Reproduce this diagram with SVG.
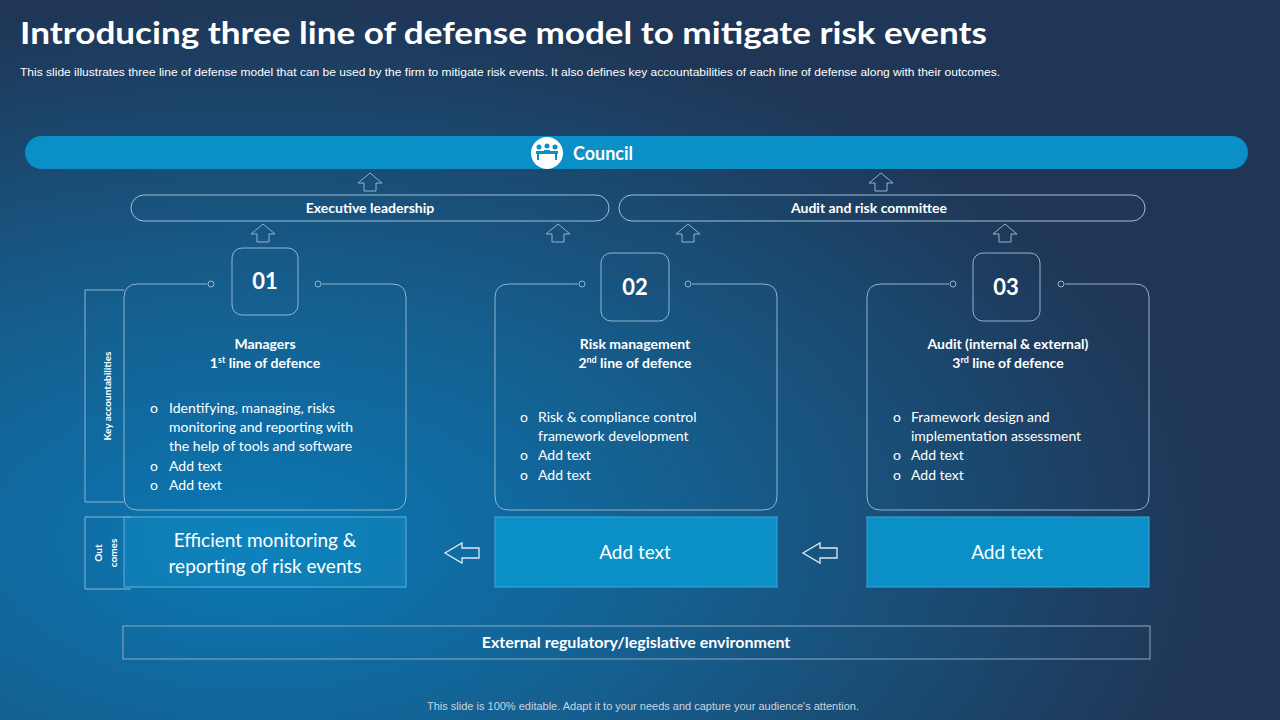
<svg xmlns="http://www.w3.org/2000/svg" width="1280" height="720" viewBox="0 0 1280 720">
<defs>
<radialGradient id="bg" cx="0.2" cy="0.75" r="0.75">
<stop offset="0" stop-color="#0a78b4"/>
<stop offset="0.45" stop-color="#155f8f"/>
<stop offset="1" stop-color="#1f3656"/>
</radialGradient>
<g id="up"><path d="M-6,8 L-6,0 L-12,0 L0,-10 L12,0 L6,0 L6,8 Z" fill="none" stroke="#8fb4d0" stroke-width="1"/></g>
<g id="left"><path d="M17,-5 L0,-5 L0,-10 L-17,0 L0,10 L0,5 L17,5 Z" fill="none" stroke="#dbe8f3" stroke-width="1.3"/></g>
</defs>
<style>
text{font-family:Lato,"Open Sans","Liberation Sans",sans-serif;fill:#fff}
.b{font-weight:bold}
.ln{fill:none;stroke:#8fb4d0;stroke-width:1}
.pill{fill:none;stroke:#9fc0d8;stroke-width:1}
.hd{font-size:14px;font-weight:bold;text-anchor:middle}
.li{font-size:14px}
.num{font-size:22px;font-weight:bold;text-anchor:middle}
.out{font-size:19px;text-anchor:middle}
.ar{font-family:"Liberation Sans",Arial,sans-serif}
</style>
<rect width="1280" height="720" fill="url(#bg)"/>
<text x="20" y="44" class="b" font-size="31" textLength="967" lengthAdjust="spacingAndGlyphs">Introducing three line of defense model to mitigate risk events</text>
<text x="20" y="76" font-size="10.5" class="ar" textLength="980" lengthAdjust="spacingAndGlyphs">This slide illustrates three line of defense model that can be used by the firm to  mitigate risk events. It also defines key accountabilities of each line of defense along with their outcomes.</text>

<g id="council">
<rect x="25" y="136" width="1223" height="33" rx="16.5" fill="#0a8fc7"/>
<circle cx="547" cy="153" r="16" fill="#fff"/>
<g fill="#0a8fc7"><circle cx="539" cy="147" r="2.5"/><circle cx="547" cy="146" r="2.5"/><circle cx="555" cy="147" r="2.5"/><rect x="536" y="151" width="22" height="3"/><rect x="537" y="154" width="2" height="6"/><rect x="555" y="154" width="2" height="6"/><rect x="544" y="150" width="6" height="4"/></g>
<text x="573" y="160" class="b" font-size="18">Council</text>
</g>

<g id="connectors">
<use href="#up" x="370" y="183"/><use href="#up" x="881" y="183"/>
<use href="#up" x="263" y="234"/><use href="#up" x="558" y="234"/>
<use href="#up" x="688" y="234"/><use href="#up" x="1005" y="234"/>
<use href="#left" x="462" y="553"/><use href="#left" x="820" y="553"/>
</g>

<g id="exec"><rect x="131" y="195" width="478" height="26" rx="13" class="pill"/><text x="370" y="213" class="hd">Executive leadership</text></g>
<g id="audit"><rect x="619" y="195" width="526" height="26" rx="13" class="pill"/><text x="869" y="213" class="hd">Audit and risk committee</text></g>

<g id="key-side"><path d="M124,290 H85 V502 H124" class="ln"/>
<text transform="translate(111,396) rotate(-90)" class="b" font-size="10" text-anchor="middle">Key accountabilities</text></g>
<g id="out-side"><path d="M131,517 H85 V589 H131" class="ln"/>
<text transform="translate(102,553) rotate(-90)" class="b" font-size="10" text-anchor="middle">Out</text>
<text transform="translate(117,553) rotate(-90)" class="b" font-size="10" text-anchor="middle">comes</text></g>

<g id="line1">
<path d="M207,284 H138 Q124,284 124,298 V496 Q124,510 138,510 H392 Q406,510 406,496 V298 Q406,284 392,284 H322" class="ln"/>
<circle cx="211" cy="284" r="3" class="ln"/><circle cx="318" cy="284" r="3" class="ln"/>
<rect x="232" y="248" width="66" height="67" rx="10" class="ln"/>
<text x="265" y="289" class="num">01</text>
<text x="265" y="349" class="hd">Managers</text>
<text x="265" y="368" class="hd">1<tspan font-size="9" dy="-5">st</tspan><tspan dy="5"> line of defence</tspan></text>
<g class="li"><text x="150" y="413">o</text><text x="169" y="413">Identifying, managing, risks</text>
<text x="169" y="432">monitoring  and reporting with</text><text x="169" y="451">the help of tools and software</text>
<text x="150" y="471">o</text><text x="169" y="471">Add text</text>
<text x="150" y="490">o</text><text x="169" y="490">Add text</text></g>
</g>
<g id="line2">
<path d="M578,284 H509 Q495,284 495,298 V496 Q495,510 509,510 H763 Q777,510 777,496 V298 Q777,284 763,284 H692" class="ln"/>
<circle cx="582" cy="284" r="3" class="ln"/><circle cx="688" cy="284" r="3" class="ln"/>
<rect x="601" y="253" width="68" height="68" rx="10" class="ln"/>
<text x="635" y="295" class="num">02</text>
<text x="635" y="349" class="hd">Risk management</text>
<text x="635" y="368" class="hd">2<tspan font-size="9" dy="-5">nd</tspan><tspan dy="5"> line of defence</tspan></text>
<g class="li"><text x="520" y="422">o</text><text x="538" y="422">Risk &amp; compliance control</text>
<text x="538" y="441">framework development</text>
<text x="520" y="460">o</text><text x="538" y="460">Add text</text>
<text x="520" y="480">o</text><text x="538" y="480">Add text</text></g>
</g>
<g id="line3">
<path d="M949,284 H881 Q867,284 867,298 V496 Q867,510 881,510 H1135 Q1149,510 1149,496 V298 Q1149,284 1135,284 H1065" class="ln"/>
<circle cx="953" cy="284" r="3" class="ln"/><circle cx="1061" cy="284" r="3" class="ln"/>
<rect x="973" y="253" width="67" height="68" rx="10" class="ln"/>
<text x="1006" y="295" class="num">03</text>
<text x="1008" y="349" class="hd">Audit (internal &amp; external)</text>
<text x="1008" y="368" class="hd">3<tspan font-size="9" dy="-5">rd</tspan><tspan dy="5"> line of defence</tspan></text>
<g class="li"><text x="893" y="422">o</text><text x="911" y="422">Framework design and</text>
<text x="911" y="441">implementation assessment</text>
<text x="893" y="460">o</text><text x="911" y="460">Add text</text>
<text x="893" y="480">o</text><text x="911" y="480">Add text</text></g>
</g>

<g id="out1"><rect x="124" y="517" width="282" height="70" fill="#1597cf" fill-opacity="0.35" stroke="#5fb0dc"/>
<text x="265" y="547" class="out">Efficient monitoring &amp;</text><text x="265" y="573" class="out">reporting of risk events</text></g>
<g id="out2"><rect x="495" y="517" width="282" height="70" fill="#0a8fc7" stroke="#3aa6d8"/><text x="635" y="559" class="out">Add text</text></g>
<g id="out3"><rect x="867" y="517" width="282" height="70" fill="#0a8fc7" stroke="#3aa6d8"/><text x="1007" y="559" class="out">Add text</text></g>

<g id="external"><rect x="123" y="626" width="1027" height="33" fill="none" stroke="#8fa8c0"/>
<text x="636" y="648" class="b" font-size="16" text-anchor="middle">External regulatory/legislative environment</text></g>

<text x="643" y="710" font-size="11" text-anchor="middle" class="ar" style="fill:#c8d4e0">This slide is 100% editable. Adapt it to your needs and capture your audience's attention.</text>
</svg>
